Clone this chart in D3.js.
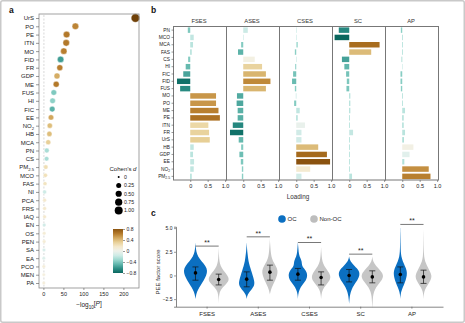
<!DOCTYPE html>
<html>
<head>
<meta charset="utf-8">
<script src="https://cdn.jsdelivr.net/npm/d3@7"></script>
<style>
body{margin:0;background:#fff;}
</style>
</head>
<body>
<svg id="fig" width="465" height="323"></svg>
<script>
// ---------- panel a : -log10 P, Cohen's d, colour value
var catsA = ["UrS","PO","PE","ITN","MO","FID","FR","GDP","ME","FUS","HI","FIC","EE","NO2","HB","MCA","PN","CS","PM2.5","MCO","FAS","NI","PCA","FRS","IAQ","EN","OS","PEN","SA","EA","PCO","MEN","PA"];
var logP = [230,80,58,57,51,43,41,34,32,26,23,22,19,16,15,12,8.5,8,6,5,4,3,3,3,3,2,2,2,1.5,1,1,1,1];
var cohenD = [1.2,0.59,0.59,0.59,0.54,0.54,0.44,0.44,0.44,0.36,0.36,0.36,0.32,0.28,0.28,0.25,0.22,0.19,0.16,0.13,0.11,0.11,0.08,0.08,0.08,0.07,0.07,0.07,0.06,0.06,0.06,0.05,0.05];
var colValA = [0.9,0.6,0.64,0.64,0.62,-0.58,0.62,0.46,0.64,-0.4,-0.36,-0.5,0.48,0.4,0.4,0.32,-0.28,-0.28,0.24,0.22,0.2,-0.16,0.15,0.15,0.15,-0.15,0.12,0.12,-0.12,-0.1,0.1,0.08,0.1];
var xTicksA = [0,50,100,150,200];
var sizeLegend = [0,0.25,0.5,0.75,1.0];
var sizeLegendLab = ["0","0.25","0.50","0.75","1.00"];
var colLegend = [-0.8,-0.4,0,0.4,0.8];

// ---------- panel b : loadings
var catsB = ["PN","MCO","MCA","FAS","CS","HI","FIC","FID","FUS","MO","PO","ME","PE","ITN","FR","UrS","HB","GDP","EE","NO2","PM2.5"];
var factors = ["FSES","ASES","CSES","SC","AP"];
var loadFSES = [-0.07,0.1,0.08,0.04,-0.06,-0.13,-0.2,-0.38,-0.29,0.74,0.74,0.81,0.85,0.52,0.54,0.56,0.1,0.08,0.11,0.1,0.04];
var loadASES = [0.13,0.01,-0.06,-0.15,0.33,0.54,0.65,0.78,0.65,-0.18,-0.19,-0.16,-0.16,-0.3,-0.38,-0.13,-0.06,-0.11,-0.07,-0.04,-0.04];
var loadCSES = [0.01,0.01,0.05,-0.04,0.01,-0.03,-0.09,-0.12,-0.04,-0.01,-0.06,0.1,0.04,0.25,0.15,0.15,0.63,0.88,0.97,0.4,0.15];
var loadSC = [-0.3,-0.42,0.87,0.63,-0.21,-0.14,-0.09,-0.07,-0.08,0.03,0.03,0.03,0.02,0.02,0.11,0.02,0.02,0.02,0.02,0.02,0.08];
var loadAP = [-0.04,0.02,0.02,0.02,-0.02,0.01,-0.05,-0.05,-0.04,0.02,0.02,0.08,0.04,0.04,0.08,0.05,0.32,0.21,0.06,0.76,0.81];
var xTicksB = [0,0.5,1];

var groups = ["OC","Non-OC"];
var gridC = [-3.5,-3,-2.5,-2,-1.5,-1,-0.5,0,0.5,1,1.5,2,2.5,3,3.5,4,4.5,5];
var densFsesOC  = [0,0,0,0.05,0.2,0.45,0.7,0.9,1.0,0.85,0.5,0.2,0.07,0.02,0,0,0,0];
var densFsesNon = [0,0,0.01,0.04,0.15,0.55,0.9,0.75,0.4,0.15,0.06,0.03,0.01,0,0,0,0,0];
var densAsesOC  = [0,0,0,0.05,0.4,0.67,0.62,0.5,0.38,0.25,0.15,0.1,0.05,0.02,0,0,0,0];
var densAsesNon = [0,0,0,0,0.08,0.25,0.45,0.6,0.67,0.5,0.25,0.12,0.07,0.04,0.01,0,0,0];
var densCsesOC  = [0,0,0,0.02,0.12,0.35,0.7,0.8,0.7,0.3,0.35,0.12,0.06,0.03,0,0,0,0];
var densCsesNon = [0,0,0,0.03,0.12,0.4,0.75,0.8,0.55,0.25,0.1,0.05,0.02,0,0,0,0,0];
var densScOC    = [0,0,0.03,0.08,0.2,0.4,0.7,0.88,0.85,0.45,0.08,0,0,0,0,0,0,0];
var densScNon   = [0,0.02,0.04,0.08,0.2,0.45,0.8,0.95,0.7,0.3,0.05,0,0,0,0,0,0,0];
var densApOC    = [0,0,0,0.02,0.12,0.3,0.45,0.55,0.55,0.38,0.2,0.08,0.04,0.025,0.02,0.015,0.01,0.005];
var densApNon   = [0,0,0,0.02,0.1,0.35,0.6,0.7,0.5,0.3,0.12,0.05,0.03,0.02,0.015,0.01,0.005,0];
var meanOC  = [0.27,-0.39,0.14,0,0.1];
var loOC    = [-0.5,-1.2,-0.5,-0.68,-0.78];
var hiOC    = [0.9,0.38,0.74,0.63,0.9];
var meanNon = [-0.42,0.35,-0.21,-0.15,-0.15];
var loNon   = [-1.0,-0.5,-1.0,-0.78,-0.84];
var hiNon   = [0.14,1.09,0.38,0.49,0.56];
var sigLevel = [3.1,4.08,3.48,2.25,5.39];
var yTicksC = [-2.5,0,2.5,5];

var fontFam = "'Liberation Sans', Arial, Helvetica, sans-serif";
var svg = d3.select("#fig").attr("font-family", fontFam);

// cadre general
svg.append("rect").attr("x",0.75).attr("y",0.75).attr("width",463.5).attr("height",321.5)
	.attr("rx",2).attr("fill","none").attr("stroke","#c9c9c9").attr("stroke-width",1.5);

function styleAxis(g, size){
	g.attr("font-size", size).attr("font-family", fontFam);
	g.selectAll(".tick line").attr("stroke","#555").attr("stroke-width",0.6);
	g.selectAll(".tick text").attr("fill","#222");
	g.select(".domain").attr("stroke","#666").attr("stroke-width",0.8);
}

// indices NO2, PM2.5
function subLabel(sel, name){
	var m = {"NO2":["NO","2"],"PM2.5":["PM","2.5"]};
	if(m[name]){
		sel.text(m[name][0]);
		sel.append("tspan").attr("dy","0.35em").attr("font-size","0.7em").text(m[name][1]);
	}
}
function fmtTick(d){ return d === 0 ? "0" : d3.format(".1f")(d); }

function panelLetter(t, x, y){
	svg.append("text").attr("x",x).attr("y",y).attr("font-size",8.5).attr("font-weight","bold").attr("fill","#111").text(t);
}
panelLetter("a",9,13);
panelLetter("b",151,13);
panelLetter("c",151,216);

// ================= panel a =================
var yA = d3.scalePoint().domain(catsA).range([18,283]);
var xA = d3.scaleLinear().domain([-11,239]).range([39,139]);
var rA = d3.scaleSqrt().domain([0,1]).range([1,4]);
function colorA(v){ return d3.interpolateBrBG(0.5 - v/2); }

var gA = svg.append("g");
gA.append("line").attr("x1",xA(1.3)).attr("x2",xA(1.3)).attr("y1",15).attr("y2",287)
	.attr("stroke","#cfcfcf").attr("stroke-width",0.8).attr("stroke-dasharray","2,1.5");

var ptsA = catsA.map(function(c,i){ return {c:c, p:logP[i], d:cohenD[i], v:colValA[i]}; });
gA.selectAll("circle.pt").data(ptsA).enter().append("circle")
	.attr("class","pt")
	.attr("cx", function(d){ return xA(d.p); })
	.attr("cy", function(d){ return yA(d.c); })
	.attr("r", function(d){ return rA(d.d); })
	.attr("fill", function(d){ return colorA(d.v); })
	.attr("stroke","#fff").attr("stroke-width",0.4);

gA.append("rect").attr("x",39).attr("y",14).attr("width",100).attr("height",274)
	.attr("fill","none").attr("stroke","#8a8a8a").attr("stroke-width",0.8);

var gAy = gA.append("g").attr("transform","translate(39,0)").call(d3.axisLeft(yA).tickSize(3).tickPadding(2));
styleAxis(gAy,6);
gAy.select(".domain").remove();
gAy.selectAll(".tick text").each(function(d){ subLabel(d3.select(this), d); });

var gAx = gA.append("g").attr("transform","translate(0,288)").call(d3.axisBottom(xA).tickValues(xTicksA).tickSize(2).tickPadding(2));
styleAxis(gAx,5.5);
gAx.select(".domain").remove();

var labA = gA.append("text").attr("x",89).attr("y",307).attr("text-anchor","middle").attr("font-size",6.5).attr("fill","#222");
labA.append("tspan").text("\u2212log");
labA.append("tspan").attr("dy","0.35em").attr("font-size","0.7em").text("10");
labA.append("tspan").attr("dy","-0.35em").text("[");
labA.append("tspan").attr("font-style","italic").text("P");
labA.append("tspan").text("]");

// legende taille
var tl = gA.append("text").attr("x",123).attr("y",170.5).attr("text-anchor","middle").attr("font-size",6).attr("fill","#222");
tl.append("tspan").text("Cohen\u2019s ");
tl.append("tspan").attr("font-style","italic").text("d");
var yS = d3.scalePoint().domain(sizeLegend).range([177,210.5]);
gA.selectAll("circle.leg").data(sizeLegend).enter().append("circle").attr("class","leg")
	.attr("cx",118.7).attr("cy", function(d){ return yS(d); })
	.attr("r", function(d){ return rA(d); }).attr("fill","#000");
gA.selectAll("text.leg").data(sizeLegend).enter().append("text").attr("class","leg")
	.attr("x",124).attr("y", function(d){ return yS(d)+1.8; })
	.attr("font-size",5.2).attr("fill","#222")
	.text(function(d,i){ return sizeLegendLab[i]; });

// barre de couleur
var grad = svg.append("defs").append("linearGradient").attr("id","gradA")
	.attr("x1","0").attr("y1","1").attr("x2","0").attr("y2","0");
d3.range(0,1.0001,0.1).forEach(function(t){
	grad.append("stop").attr("offset", t).attr("stop-color", colorA(-0.8 + 1.6*t));
});
var yCol = d3.scaleLinear().domain([-0.8,0.8]).range([273,229]);
gA.append("rect").attr("x",113).attr("y",229).attr("width",10).attr("height",44).attr("fill","url(#gradA)");
var gCol = gA.append("g").attr("transform","translate(123,0)")
	.call(d3.axisRight(yCol).tickValues(colLegend).tickSize(2).tickPadding(1.5).tickFormat(fmtTick));
styleAxis(gCol,5);
gCol.select(".domain").remove();

// ================= panel b =================
function colorB(v){
	var m = 0.28;
	var s = v > m ? (v-m)/(1-m) : (v-m)/(m+0.45);
	s = Math.max(-1, Math.min(1, s));
	return d3.interpolateBrBG(0.5 - 0.42*s);
}
var yB = d3.scaleBand().domain(catsB).range([26.5,180]).paddingInner(0.25).paddingOuter(0.12);
var panelX = d3.scaleBand().domain(factors).range([173.5,438.5]);
var loads = [loadFSES, loadASES, loadCSES, loadSC, loadAP];
var gB = svg.append("g");

factors.forEach(function(f,k){
	var x0 = panelX(f), w = panelX.bandwidth();
	var xs = d3.scaleLinear().domain([-0.48,1.04]).range([x0, x0+w]);
	var data = catsB.map(function(c,i){ return {c:c, v:loads[k][i]}; });
	gB.selectAll("rect.bar"+k).data(data).enter().append("rect")
		.attr("x", function(d){ return xs(Math.min(0,d.v)); })
		.attr("y", function(d){ return yB(d.c); })
		.attr("width", function(d){ return Math.abs(xs(d.v)-xs(0)); })
		.attr("height", yB.bandwidth())
		.attr("fill", function(d){ return colorB(d.v); });
	gB.append("rect").attr("x",x0).attr("y",26.5).attr("width",w).attr("height",153.5)
		.attr("fill","none").attr("stroke","#777").attr("stroke-width",1);
	gB.append("text").attr("x",x0+w/2-1).attr("y",23).attr("text-anchor","middle")
		.attr("font-size",5.8).attr("fill","#333").text(f);
	var gx = gB.append("g").attr("transform","translate(0,180)")
		.call(d3.axisBottom(xs).tickValues(xTicksB).tickSize(2).tickPadding(2).tickFormat(fmtTick));
	styleAxis(gx,5.5);
	gx.select(".domain").remove();
});
var gBy = gB.append("g").attr("transform","translate(173.5,0)").call(d3.axisLeft(yB).tickSize(2).tickPadding(1.5));
styleAxis(gBy,4.8);
gBy.select(".domain").remove();
gBy.selectAll(".tick text").each(function(d){ subLabel(d3.select(this), d); });
gB.append("text").attr("x",298).attr("y",199).attr("text-anchor","middle").attr("font-size",6.3).attr("fill","#333").text("Loading");

// ================= panel c =================
var colOC = "#0b6fc1", colNon = "#c6c6c6";
var xC = d3.scaleBand().domain(factors).range([176,443]).paddingOuter(0.107);
var xSub = d3.scalePoint().domain(groups).range([-11.6,11.6]);
var yC = d3.scaleLinear().domain([-3.3,5.15]).range([306.7,226.7]);
var wC = d3.scaleLinear().domain([0,1]).range([0,12]);
var densOC = [densFsesOC, densAsesOC, densCsesOC, densScOC, densApOC];
var densNon = [densFsesNon, densAsesNon, densCsesNon, densScNon, densApNon];

var violins = [];
factors.forEach(function(f,i){
	violins.push({f:f, g:"OC", dens:densOC[i], mean:meanOC[i], lo:loOC[i], hi:hiOC[i], col:colOC});
	violins.push({f:f, g:"Non-OC", dens:densNon[i], mean:meanNon[i], lo:loNon[i], hi:hiNon[i], col:colNon});
});
function cxOf(f,g){ return xC(f) + xC.bandwidth()/2 + xSub(g); }

var gC = svg.append("g");
violins.forEach(function(vd){
	var cx = cxOf(vd.f, vd.g);
	var pts = gridC.map(function(v,k){ return [v, vd.dens[k]]; });
	var first = 0, last = pts.length-1;
	while(first < last && pts[first+1][1] === 0) first++;
	while(last > first && pts[last-1][1] === 0) last--;
	pts = pts.slice(first, last+1);
	var area = d3.area().curve(d3.curveBasis)
		.y(function(d){ return yC(d[0]); })
		.x0(function(d){ return cx - wC(d[1]); })
		.x1(function(d){ return cx + wC(d[1]); });
	gC.append("path").attr("d", area(pts)).attr("fill", vd.col);
});
violins.forEach(function(vd){
	var cx = cxOf(vd.f, vd.g);
	gC.append("line").attr("x1",cx).attr("x2",cx).attr("y1",yC(vd.lo)).attr("y2",yC(vd.hi)).attr("stroke","#111").attr("stroke-width",0.7);
	[vd.lo, vd.hi].forEach(function(v){
		gC.append("line").attr("x1",cx-3).attr("x2",cx+3).attr("y1",yC(v)).attr("y2",yC(v)).attr("stroke","#111").attr("stroke-width",0.7);
	});
	gC.append("circle").attr("cx",cx).attr("cy",yC(vd.mean)).attr("r",1.8).attr("fill","#000");
});
// barres de significativite
factors.forEach(function(f,i){
	var xa = cxOf(f,"OC"), xb = cxOf(f,"Non-OC"), y = yC(sigLevel[i]);
	gC.append("line").attr("x1",xa).attr("x2",xb).attr("y1",y).attr("y2",y).attr("stroke","#555").attr("stroke-width",0.8);
	gC.append("text").attr("x",(xa+xb)/2).attr("y",y-1.2).attr("text-anchor","middle").attr("font-size",7).attr("fill","#222").text("**");
});

var gCy = gC.append("g").attr("transform","translate(176,0)")
	.call(d3.axisLeft(yC).tickValues(yTicksC).tickSize(2).tickPadding(1.5).tickFormat(fmtTick));
styleAxis(gCy,5);
var gCx = gC.append("g").attr("transform","translate(0,306.7)")
	.call(d3.axisBottom(xC).tickSize(2).tickSizeOuter(0).tickPadding(3));
styleAxis(gCx,6);
gC.append("text").attr("transform","translate(160,272) rotate(-90)").attr("text-anchor","middle")
	.attr("font-size",6).attr("fill","#333").text("PEE factor score");

// legende
var legC = [{g:"OC", col:colOC, x:282}, {g:"Non-OC", col:"#bdbdbd", x:314}];
legC.forEach(function(l){
	gC.append("circle").attr("cx",l.x).attr("cy",219).attr("r",3.8).attr("fill",l.col);
	gC.append("text").attr("x",l.x+5.5).attr("y",221.2).attr("font-size",6).attr("fill","#222").text(l.g);
});
</script>
</body>
</html>
